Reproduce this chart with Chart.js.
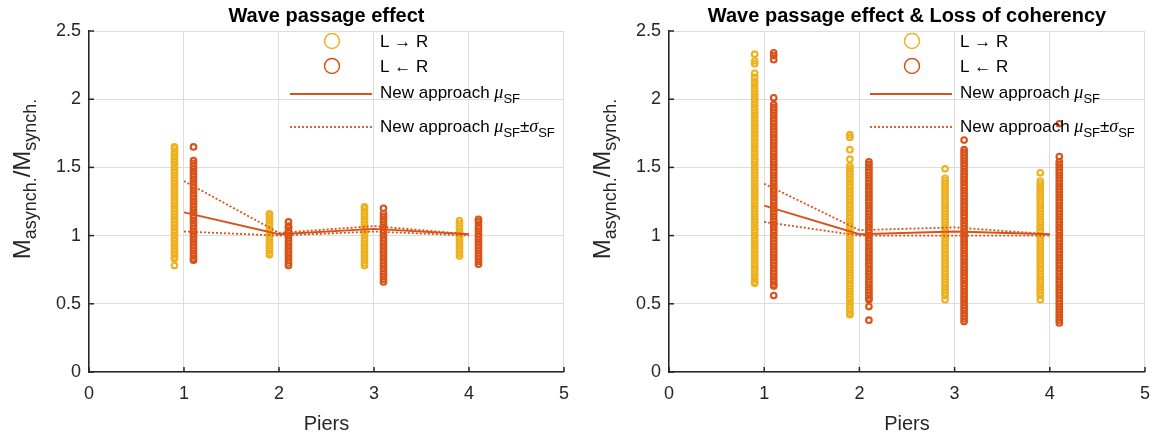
<!DOCTYPE html>
<html>
<head>
<meta charset="utf-8">
<script src="https://cdn.jsdelivr.net/npm/chart.js@4.4.1/dist/chart.umd.min.js"></script>
<style>
  body { margin: 0; background: #fff; }
  #wrap { position: relative; width: 1161px; height: 438px; }
  canvas { position: absolute; top: 0; }
</style>
</head>
<body>
<div id="wrap">
  <canvas id="chartWP" width="580" height="438" style="left:0"></canvas>
  <canvas id="chartLC" width="581" height="438" style="left:580px"></canvas>
</div>
<script>
// pier numbers and where each direction's cloud sits
const piers = [1, 2, 3, 4];
const xLR = [0.9, 1.9, 2.9, 3.9];
const xRL = [1.1, 2.1, 3.1, 4.1];
const xTicks = [0, 1, 2, 3, 4, 5];
const yTicks = [0, 0.5, 1, 1.5, 2, 2.5];

// --- Wave passage effect: M_asynch/M_synch per pier ---
const wpLR = [
  [1.65, 1.64, 1.62, 1.60, 1.58, 1.56, 1.54, 1.52, 1.50, 1.48, 1.46, 1.44, 1.42, 1.40, 1.38, 1.36, 1.34, 1.32, 1.30, 1.28, 1.26, 1.24, 1.22, 1.20, 1.18, 1.16, 1.14, 1.12, 1.10, 1.08, 1.06, 1.04, 1.02, 1.00, 0.98, 0.96, 0.94, 0.92, 0.90, 0.88, 0.86, 0.84, 0.83, 0.78],
  [1.16, 1.15, 1.13, 1.11, 1.09, 1.07, 1.05, 1.03, 1.01, 0.99, 0.97, 0.95, 0.93, 0.91, 0.89, 0.87, 0.86],
  [1.21, 1.20, 1.18, 1.16, 1.14, 1.12, 1.10, 1.08, 1.06, 1.04, 1.02, 1.00, 0.98, 0.96, 0.94, 0.92, 0.90, 0.88, 0.86, 0.84, 0.82, 0.80, 0.78],
  [1.11, 1.09, 1.07, 1.05, 1.03, 1.01, 0.99, 0.97, 0.95, 0.93, 0.91, 0.89, 0.87, 0.85]
];
const wpRL = [
  [1.65, 1.55, 1.53, 1.51, 1.49, 1.47, 1.45, 1.43, 1.41, 1.39, 1.37, 1.35, 1.33, 1.31, 1.29, 1.27, 1.25, 1.23, 1.21, 1.19, 1.17, 1.15, 1.13, 1.11, 1.09, 1.07, 1.05, 1.03, 1.01, 0.99, 0.97, 0.95, 0.93, 0.91, 0.89, 0.87, 0.85, 0.83, 0.82],
  [1.10, 1.07, 1.06, 1.04, 1.02, 1.00, 0.98, 0.96, 0.94, 0.92, 0.90, 0.88, 0.86, 0.84, 0.82, 0.80, 0.78],
  [1.20, 1.16, 1.14, 1.12, 1.10, 1.08, 1.06, 1.04, 1.02, 1.00, 0.98, 0.96, 0.94, 0.92, 0.90, 0.88, 0.86, 0.84, 0.82, 0.80, 0.78, 0.76, 0.74, 0.72, 0.70, 0.68, 0.66],
  [1.12, 1.10, 1.07, 1.05, 1.03, 1.01, 0.99, 0.97, 0.95, 0.93, 0.91, 0.89, 0.87, 0.85, 0.83, 0.81, 0.79]
];
const wpMean  = [1.17, 1.01, 1.05, 1.01];
const wpUpper = [1.40, 1.02, 1.07, 1.01];
const wpLower = [1.03, 1.00, 1.03, 1.00];

// --- Wave passage effect & loss of coherency ---
const lcLR = [
  [2.33, 2.28, 2.26, 2.19, 2.16, 2.13, 2.11, 2.08, 2.06, 2.04, 2.02, 2.00, 1.98, 1.96, 1.94, 1.92, 1.90, 1.88, 1.86, 1.84, 1.82, 1.80, 1.78, 1.76, 1.74, 1.72, 1.70, 1.68, 1.66, 1.64, 1.62, 1.60, 1.58, 1.56, 1.54, 1.52, 1.50, 1.48, 1.46, 1.44, 1.42, 1.40, 1.38, 1.36, 1.34, 1.32, 1.30, 1.28, 1.26, 1.24, 1.22, 1.20, 1.18, 1.16, 1.14, 1.12, 1.10, 1.08, 1.06, 1.04, 1.02, 1.00, 0.98, 0.96, 0.94, 0.92, 0.90, 0.88, 0.86, 0.84, 0.82, 0.80, 0.78, 0.76, 0.74, 0.72, 0.70, 0.68, 0.66, 0.65],
  [1.74, 1.72, 1.63, 1.56, 1.51, 1.49, 1.47, 1.45, 1.43, 1.41, 1.39, 1.37, 1.35, 1.33, 1.31, 1.29, 1.27, 1.25, 1.23, 1.21, 1.19, 1.17, 1.15, 1.13, 1.11, 1.09, 1.07, 1.05, 1.03, 1.01, 0.99, 0.97, 0.95, 0.93, 0.91, 0.89, 0.87, 0.85, 0.83, 0.81, 0.79, 0.77, 0.75, 0.73, 0.71, 0.69, 0.67, 0.65, 0.63, 0.61, 0.59, 0.57, 0.55, 0.53, 0.51, 0.49, 0.47, 0.45, 0.43, 0.42],
  [1.49, 1.42, 1.40, 1.38, 1.36, 1.34, 1.32, 1.30, 1.28, 1.26, 1.24, 1.22, 1.20, 1.18, 1.16, 1.14, 1.12, 1.10, 1.08, 1.06, 1.04, 1.02, 1.00, 0.98, 0.96, 0.94, 0.92, 0.90, 0.88, 0.86, 0.84, 0.82, 0.80, 0.78, 0.76, 0.74, 0.72, 0.70, 0.68, 0.66, 0.64, 0.62, 0.60, 0.58, 0.56, 0.53],
  [1.46, 1.40, 1.38, 1.36, 1.34, 1.32, 1.30, 1.28, 1.26, 1.24, 1.22, 1.20, 1.18, 1.16, 1.14, 1.12, 1.10, 1.08, 1.06, 1.04, 1.02, 1.00, 0.98, 0.96, 0.94, 0.92, 0.90, 0.88, 0.86, 0.84, 0.82, 0.80, 0.78, 0.76, 0.74, 0.72, 0.70, 0.68, 0.66, 0.64, 0.62, 0.60, 0.58, 0.56, 0.53]
];
const lcRL = [
  [2.34, 2.32, 2.29, 2.01, 1.96, 1.94, 1.92, 1.90, 1.88, 1.86, 1.84, 1.82, 1.80, 1.78, 1.76, 1.74, 1.72, 1.70, 1.68, 1.66, 1.64, 1.62, 1.60, 1.58, 1.56, 1.54, 1.52, 1.50, 1.48, 1.46, 1.44, 1.42, 1.40, 1.38, 1.36, 1.34, 1.32, 1.30, 1.28, 1.26, 1.24, 1.22, 1.20, 1.18, 1.16, 1.14, 1.12, 1.10, 1.08, 1.06, 1.04, 1.02, 1.00, 0.98, 0.96, 0.94, 0.92, 0.90, 0.88, 0.86, 0.84, 0.82, 0.80, 0.78, 0.76, 0.74, 0.72, 0.70, 0.68, 0.66, 0.64, 0.63, 0.56],
  [1.54, 1.52, 1.50, 1.48, 1.46, 1.44, 1.42, 1.40, 1.38, 1.36, 1.34, 1.32, 1.30, 1.28, 1.26, 1.24, 1.22, 1.20, 1.18, 1.16, 1.14, 1.12, 1.10, 1.08, 1.06, 1.04, 1.02, 1.00, 0.98, 0.96, 0.94, 0.92, 0.90, 0.88, 0.86, 0.84, 0.82, 0.80, 0.78, 0.76, 0.74, 0.72, 0.70, 0.68, 0.66, 0.64, 0.62, 0.60, 0.58, 0.56, 0.54, 0.53, 0.48, 0.38],
  [1.70, 1.63, 1.61, 1.59, 1.57, 1.55, 1.53, 1.51, 1.49, 1.47, 1.45, 1.43, 1.41, 1.39, 1.37, 1.35, 1.33, 1.31, 1.29, 1.27, 1.25, 1.23, 1.21, 1.19, 1.17, 1.15, 1.13, 1.11, 1.09, 1.07, 1.05, 1.03, 1.01, 0.99, 0.97, 0.95, 0.93, 0.91, 0.89, 0.87, 0.85, 0.83, 0.81, 0.79, 0.77, 0.75, 0.73, 0.71, 0.69, 0.67, 0.65, 0.63, 0.61, 0.59, 0.57, 0.55, 0.53, 0.51, 0.49, 0.47, 0.45, 0.43, 0.41, 0.39, 0.37],
  [1.82, 1.58, 1.54, 1.52, 1.50, 1.48, 1.46, 1.44, 1.42, 1.40, 1.38, 1.36, 1.34, 1.32, 1.30, 1.28, 1.26, 1.24, 1.22, 1.20, 1.18, 1.16, 1.14, 1.12, 1.10, 1.08, 1.06, 1.04, 1.02, 1.00, 0.98, 0.96, 0.94, 0.92, 0.90, 0.88, 0.86, 0.84, 0.82, 0.80, 0.78, 0.76, 0.74, 0.72, 0.70, 0.68, 0.66, 0.64, 0.62, 0.60, 0.58, 0.56, 0.54, 0.52, 0.50, 0.48, 0.46, 0.44, 0.42, 0.40, 0.38, 0.36]
];
const lcMean  = [1.22, 1.01, 1.03, 1.01];
const lcUpper = [1.38, 1.04, 1.06, 1.01];
const lcLower = [1.10, 1.00, 1.00, 1.00];

const yellow = '#EDB120';
const orange = '#D95319';
const ink = '#262626';
const sans = '"Liberation Sans", Arial, sans-serif';
const serif = '"Liberation Serif", "Times New Roman", serif';

const toPoints = (xs, groups) => {
  let out = [];
  groups.forEach((g, i) => g.forEach(v => out.push({ x: xs[i], y: v })));
  return out;
};
const toLine = (ys) => piers.map((p, i) => ({ x: p, y: ys[i] }));

// draw a list of [text, font, dy] pieces one after another
const drawRuns = (ctx, x, y, runs) => {
  runs.forEach(([t, f, dy]) => {
    ctx.font = f;
    ctx.fillText(t, x, y + dy);
    x += ctx.measureText(t).width;
  });
};
const runsWidth = (ctx, runs) => {
  let w = 0;
  runs.forEach(([t, f]) => { ctx.font = f; w += ctx.measureText(t).width; });
  return w;
};

const matlabDecor = {
  id: 'matlabDecor',
  afterDraw(chart, args, opts) {
    const ctx = chart.ctx;
    const { left, right, top, bottom } = chart.chartArea;
    const sx = chart.scales.x, sy = chart.scales.y;
    ctx.save();

    // inward tick marks
    ctx.strokeStyle = ink;
    ctx.lineWidth = 1.5;
    xTicks.forEach(v => {
      let px = sx.getPixelForValue(v);
      ctx.beginPath(); ctx.moveTo(px, bottom); ctx.lineTo(px, bottom - 5); ctx.stroke();
    });
    yTicks.forEach(v => {
      let py = sy.getPixelForValue(v);
      ctx.beginPath(); ctx.moveTo(left, py); ctx.lineTo(left + 5, py); ctx.stroke();
    });

    // title
    ctx.fillStyle = '#000';
    ctx.font = 'bold 20px ' + sans;
    ctx.textAlign = 'center';
    ctx.textBaseline = 'middle';
    ctx.fillText(opts.title, (left + right) / 2, 16);

    // y axis label with subscripts
    ctx.fillStyle = ink;
    ctx.textAlign = 'left';
    ctx.textBaseline = 'alphabetic';
    const big = '24px ' + sans, small = '18px ' + sans;
    const yRuns = [['M', big, 0], ['asynch.', small, 6], ['/M', big, 0], ['synch.', small, 6]];
    ctx.translate(30, 179);
    ctx.rotate(-Math.PI / 2);
    drawRuns(ctx, -runsWidth(ctx, yRuns) / 2, 0, yRuns);
    ctx.setTransform(1, 0, 0, 1, 0, 0);

    // legend (no box)
    const L = left;
    ctx.lineWidth = 1.5;
    ctx.strokeStyle = yellow;
    ctx.beginPath(); ctx.arc(L + 243, 41, 7.5, 0, Math.PI * 2); ctx.stroke();
    ctx.strokeStyle = orange;
    ctx.beginPath(); ctx.arc(L + 243, 66, 7.5, 0, Math.PI * 2); ctx.stroke();
    ctx.lineWidth = 1.8;
    ctx.beginPath(); ctx.moveTo(L + 201, 94); ctx.lineTo(L + 283, 94); ctx.stroke();
    ctx.setLineDash([2, 2]);
    ctx.beginPath(); ctx.moveTo(L + 201, 127); ctx.lineTo(L + 283, 127); ctx.stroke();
    ctx.setLineDash([]);

    ctx.fillStyle = '#000';
    const lf = '17px ' + sans, mu = 'italic 18px ' + serif, sub = '13px ' + sans;
    drawRuns(ctx, L + 291, 47, [['L \u2192 R', lf, 0]]);
    drawRuns(ctx, L + 291, 72, [['L \u2190 R', lf, 0]]);
    drawRuns(ctx, L + 291, 98, [['New approach ', lf, 0], ['\u03bc', mu, 0], ['SF', sub, 5]]);
    drawRuns(ctx, L + 291, 132, [['New approach ', lf, 0], ['\u03bc', mu, 0], ['SF', sub, 5], ['\u00b1', lf, 0], ['\u03c3', mu, 0], ['SF', sub, 5]]);

    ctx.restore();
  }
};

const makeChart = (id, title, lr, rl, mean, upper, lower, padRight) => {
  const ctx = document.getElementById(id).getContext('2d');
  const lineStyle = { type: 'line', showLine: true, pointRadius: 0, borderColor: orange, borderWidth: 1.8, fill: false, tension: 0 };
  const markStyle = { pointStyle: 'circle', pointRadius: 2.8, pointBorderWidth: 2.1, backgroundColor: 'rgba(0,0,0,0)' };
  return new Chart(ctx, {
    type: 'scatter',
    data: {
      datasets: [
        Object.assign({ label: 'New approach mean', data: toLine(mean) }, lineStyle),
        Object.assign({ label: 'mean + sd', data: toLine(upper), borderDash: [2, 2] }, lineStyle),
        Object.assign({ label: 'mean - sd', data: toLine(lower), borderDash: [2, 2] }, lineStyle),
        Object.assign({ label: 'L to R', data: toPoints(xLR, lr), borderColor: yellow }, markStyle),
        Object.assign({ label: 'L from R', data: toPoints(xRL, rl), borderColor: orange }, markStyle)
      ]
    },
    options: {
      responsive: false,
      animation: false,
      events: [],
      layout: { padding: { left: 0, right: padRight, top: 31, bottom: 0 } },
      plugins: {
        legend: { display: false },
        tooltip: { enabled: false },
        matlabDecor: { title: title }
      },
      scales: {
        x: {
          type: 'linear', min: 0, max: 5,
          afterBuildTicks: (s) => { s.ticks = xTicks.map(v => ({ value: v })); },
          ticks: { color: ink, font: { family: sans, size: 18 }, padding: 11, maxRotation: 0, callback: v => String(v) },
          grid: { color: '#dcdcdc', lineWidth: 1, drawTicks: false },
          border: { color: ink, width: 1.5 },
          title: { display: true, text: 'Piers', color: ink, font: { family: sans, size: 20 }, padding: { top: 0, bottom: 2 } },
          afterFit: (s) => { s.height = 66; }
        },
        y: {
          type: 'linear', min: 0, max: 2.5,
          afterBuildTicks: (s) => { s.ticks = yTicks.map(v => ({ value: v })); },
          ticks: { color: ink, font: { family: sans, size: 18 }, padding: 8, callback: v => String(v) },
          grid: { color: '#dcdcdc', lineWidth: 1, drawTicks: false },
          border: { color: ink, width: 1.5 },
          afterFit: (s) => { s.width = 89; }
        }
      }
    },
    plugins: [matlabDecor]
  });
};

makeChart('chartWP', 'Wave passage effect', wpLR, wpRL, wpMean, wpUpper, wpLower, 6);
makeChart('chartLC', 'Wave passage effect & Loss of coherency', lcLR, lcRL, lcMean, lcUpper, lcLower, 8);
</script>
</body>
</html>
